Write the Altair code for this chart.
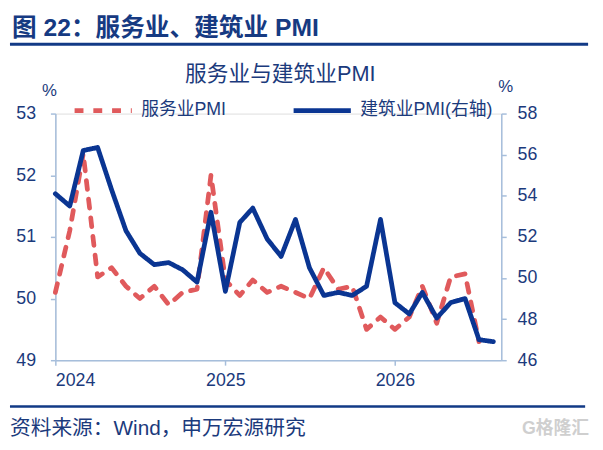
import altair as alt
import pandas as pd

months = [
    "2024-01-01", "2024-02-01", "2024-03-01", "2024-04-01", "2024-05-01", "2024-06-01",
    "2024-07-01", "2024-08-01", "2024-09-01", "2024-10-01", "2024-11-01", "2024-12-01",
    "2025-01-01", "2025-02-01", "2025-03-01", "2025-04-01", "2025-05-01", "2025-06-01",
    "2025-07-01", "2025-08-01", "2025-09-01", "2025-10-01", "2025-11-01", "2025-12-01",
    "2026-01-01", "2026-02-01", "2026-03-01", "2026-04-01", "2026-05-01", "2026-06-01",
    "2026-07-01", "2026-08-01",
]

services_pmi = [
    50.1, 51.1, 52.35, 50.35, 50.5, 50.2, 50.0, 50.2, 49.9, 50.1, 50.15, 52.0,
    50.3, 50.05, 50.3, 50.1, 50.2, 50.1, 50.0, 50.5, 50.15, 50.2, 49.5, 49.7,
    49.5, 49.7, 50.2, 49.6, 50.35, 50.4, 49.3,
]

construction_pmi = [
    54.1, 53.5, 56.2, 56.35, 54.3, 52.3, 51.2, 50.65, 50.75, 50.4, 49.8, 53.2,
    49.35, 52.7, 53.4, 51.9, 51.05, 52.85, 50.5, 49.15, 49.3, 49.15, 49.6, 52.85,
    48.8, 48.25, 49.3, 48.05, 48.8, 49.0, 47.0, 46.9,
]

series_names = ["服务业PMI", "建筑业PMI(右轴)"]
series_colors = ["#e05a5c", "#0a3592"]
left_ticks = [49, 50, 51, 52, 53]
right_ticks = [46, 48, 50, 52, 54, 56, 58]
year_ticks = [2024, 2025, 2026]

heading = "图 22：服务业、建筑业 PMI"
chart_title = "服务业与建筑业PMI"
source = "资料来源：Wind，申万宏源研究"
watermark = "G格隆汇"

NAVY = "#1b3a7c"
AXIS = "#a6bedb"
FONT = "Liberation Sans, Noto Sans CJK SC"

df_s = pd.DataFrame({"date": months[: len(services_pmi)], "v": services_pmi, "series": series_names[0]})
df_c = pd.DataFrame({"date": months, "v": construction_pmi, "series": series_names[1]})

x_enc = alt.X(
    "date:T",
    scale=alt.Scale(
        type="utc",
        domain=[
            alt.DateTime(year=2024, month=1, date=1, utc=True),
            alt.DateTime(year=2026, month=8, date=18, utc=True),
        ],
    ),
    axis=alt.Axis(
        values=[alt.DateTime(year=y, month=1, date=1, utc=True) for y in year_ticks],
        format="%Y",
        title=None,
        grid=False,
        domainColor=AXIS,
        domainWidth=1.5,
        tickColor=AXIS,
        tickWidth=1.5,
        tickSize=5,
        labelFontSize=18,
        labelColor=NAVY,
        labelFont=FONT,
        labelPadding=7,
    ),
)

legend_props = dict(
    title=None,
    orient="none",
    legendX=17,
    legendY=-35,
    direction="horizontal",
    symbolType="stroke",
    symbolSize=3364,
    symbolStrokeWidth=4.8,
    labelFontSize=18,
    labelFont=FONT,
    labelColor=NAVY,
    labelOffset=7,
    columnPadding=57,
    padding=0,
)

color_enc = alt.Color(
    "series:N",
    scale=alt.Scale(domain=series_names, range=series_colors),
    legend=alt.Legend(**legend_props),
)
dash_enc = alt.StrokeDash(
    "series:N",
    scale=alt.Scale(domain=series_names, range=[[9, 10], [1, 0]]),
    legend=alt.Legend(**legend_props),
)


def y_axis(orient, values, tx, ty, pad):
    return alt.Axis(
        orient=orient,
        values=values,
        title="%",
        titleAngle=0,
        titleX=tx,
        titleY=ty,
        titleAlign="center",
        titleBaseline="middle",
        titleFontSize=17,
        titleFontWeight="normal",
        titleColor=NAVY,
        titleFont=FONT,
        grid=False,
        domainColor=AXIS,
        domainWidth=1.5,
        tickColor=AXIS,
        tickWidth=1.5,
        tickSize=5,
        labelFontSize=18,
        labelColor=NAVY,
        labelFont=FONT,
        labelPadding=pad,
    )


services = alt.Chart(df_s).mark_line(strokeWidth=4.8, strokeCap="round", strokeJoin="round").encode(
    x=x_enc,
    y=alt.Y("v:Q", scale=alt.Scale(domain=[49, 53], nice=False, zero=False),
            axis=y_axis("left", left_ticks, -6.5, -23, 15)),
    color=color_enc,
    strokeDash=dash_enc,
)

construction = alt.Chart(df_c).mark_line(strokeWidth=4.8, strokeCap="round", strokeJoin="round").encode(
    x=x_enc,
    y=alt.Y("v:Q", scale=alt.Scale(domain=[46, 58], nice=False, zero=False),
            axis=y_axis("right", right_ticks, 4, -27, 11)),
    color=color_enc,
    strokeDash=dash_enc,
)

one = pd.DataFrame({"k": [0]})


def label(text, x, y, size, color=NAVY, weight="normal", align="left"):
    return alt.Chart(one).mark_text(
        text=text, fontSize=size, font=FONT, fontWeight=weight, color=color,
        align=align, baseline="middle",
    ).encode(x=alt.value(x), y=alt.value(y))


def hline(x1, x2, y, w):
    return alt.Chart(one).mark_rule(color="#123a86", strokeWidth=w).encode(
        x=alt.value(x1), x2=alt.value(x2), y=alt.value(y)
    )


lines = alt.layer(services, construction).resolve_scale(y="independent")

chart = alt.layer(
    lines,
    label(heading, -44, -87, 25, color="#163a82", weight="bold"),
    hline(-46, 540, -70.3, 3),
    label(chart_title, 228, -40, 22, align="center"),
    hline(-46, 537, 297, 2.5),
    label(source, -46, 320, 21),
    label(watermark, 541, 320, 18, color="#cfcfcf", weight="bold", align="right"),
).properties(
    width=452,
    height=250,
    padding={"left": 48, "top": 104, "right": 95, "bottom": 88},
    autosize=alt.AutoSizeParams(type="none"),
).configure_view(stroke=None).configure(background="white")

chart.save("out.html", embed_options={"renderer": "svg", "actions": False})
